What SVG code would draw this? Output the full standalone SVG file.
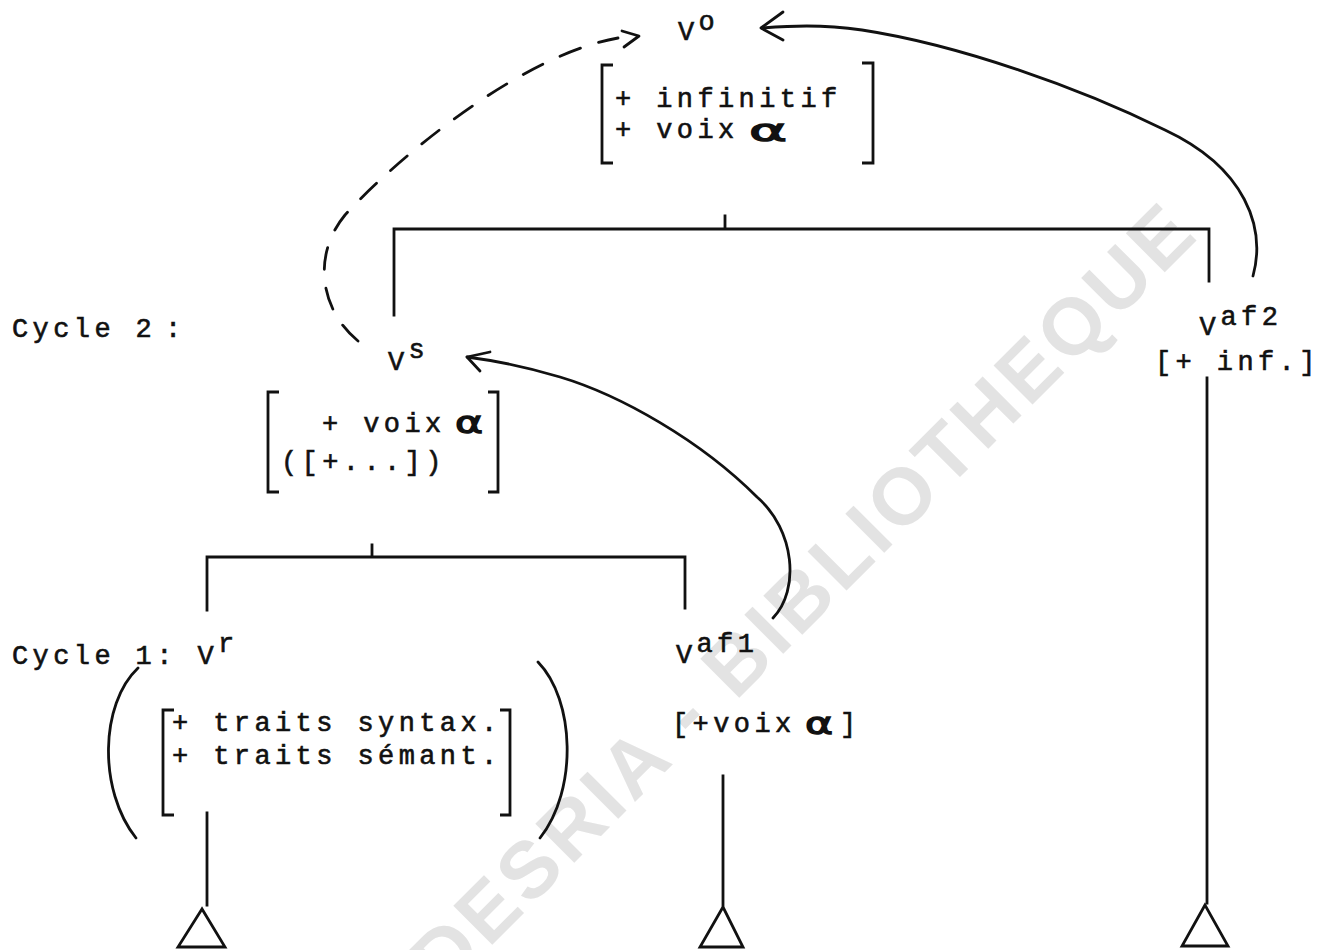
<svg xmlns="http://www.w3.org/2000/svg" width="1319" height="950" viewBox="0 0 1319 950">
<style>
.t{font-family:"Liberation Mono","DejaVu Sans Mono",monospace;font-size:27px;letter-spacing:4.4px;fill:#111;stroke:#111;stroke-width:0.6}
.a{font-family:"DejaVu Sans","Liberation Sans",sans-serif;font-size:30px;fill:#111;stroke:#111;stroke-width:1.3}
.ln{fill:none;stroke:#111;stroke-width:2.8;stroke-linecap:square}
.cv{fill:none;stroke:#111;stroke-width:2.8;stroke-linecap:round;stroke-linejoin:round}
.br{fill:none;stroke:#111;stroke-width:2.8}
.wm{font-family:"Liberation Sans",Arial,sans-serif;font-weight:bold;font-size:80px;fill:#e3e3e3}
</style>
<rect width="1319" height="950" fill="#fff"/>
<text class="wm" transform="translate(353,1084) rotate(-45)" textLength="1196" lengthAdjust="spacing">CODESRIA - BIBLIOTHEQUE</text>

<g id="node-v0">
<text class="t" x="678" y="40">V</text>
<text class="t" x="698.5" y="30">o</text>
<path class="br" d="M613 65H602V163H613M862 63H873V163H862"/>
<text class="t" x="615" y="107">+ infinitif</text>
<text class="t" x="615" y="138">+ voix</text>
<text class="a" x="749" y="141" textLength="38" lengthAdjust="spacingAndGlyphs">α</text>
</g>

<g id="node-vs">
<text class="t" x="388" y="370">V</text>
<text class="t" x="408.5" y="358">s</text>
<path class="br" d="M279 392H268V492H279M488 392H498V492H488"/>
<text class="t" x="322" y="432">+ voix</text>
<text class="a" x="455" y="433" textLength="28" lengthAdjust="spacingAndGlyphs">α</text>
<text class="t" x="281" y="470">([+...])</text>
</g>

<g id="label-cycle2">
<text class="t" x="12" y="337">Cycle 2</text>
<text class="t" x="165" y="337">:</text>
</g>

<g id="node-vr">
<text class="t" x="12" y="664">Cycle 1: V</text>
<text class="t" x="218" y="652">r</text>
<path class="cv" d="M138 668C100 704 98 790 136 838"/>
<path class="cv" d="M538 662C575 700 578 790 540 838"/>
<path class="br" d="M174 710H163V815H174M500 710H510V815H500"/>
<text class="t" x="172" y="731">+ traits syntax.</text>
<text class="t" x="172" y="764">+ traits sémant.</text>
</g>

<g id="node-vaf1">
<text class="t" x="676" y="663">V</text>
<text class="t" x="696.5" y="652">af1</text>
<text class="t" x="672" y="732">[+voix</text>
<text class="a" x="805" y="734" textLength="28" lengthAdjust="spacingAndGlyphs">α</text>
<text class="t" x="840" y="732">]</text>
</g>

<g id="node-vaf2">
<text class="t" x="1199.5" y="335">V</text>
<text class="t" x="1220.5" y="325">af2</text>
<text class="t" x="1155" y="370">[+ inf.]</text>
</g>

<g id="leaf-1"><path class="ln" d="M202 909L178 947H225Z"/></g>
<g id="leaf-2"><path class="ln" d="M723 907L700 947H743Z"/></g>
<g id="leaf-3"><path class="ln" d="M1205 905L1182 946H1228Z"/></g>

<g id="connectors">
<path class="ln" d="M725 216V229M394 315V229H1209V281"/>
<path class="ln" d="M372 545V557M207 610V557H685V608"/>
<path class="ln" d="M207 813V905M723 776V905M1207 378V903"/>
<path class="cv" stroke-dasharray="22 19" d="M358 341C320 310 312 255 345 215C395 160 520 55 618 38"/>
<path class="cv" d="M622 31L639 36L624 47"/>
<path class="cv" d="M1253 276C1266 228 1246 168 1165 130C1080 88 960 45 862 30C820 24 790 26 762 28"/>
<path class="cv" d="M783 12L761 28L783 40"/>
<path class="cv" d="M773 618C800 590 795 530 757 497C700 440 620 395 560 377C520 365 490 360 467 357"/>
<path class="cv" d="M490 352L467 357L480 371"/>
</g>
</svg>
